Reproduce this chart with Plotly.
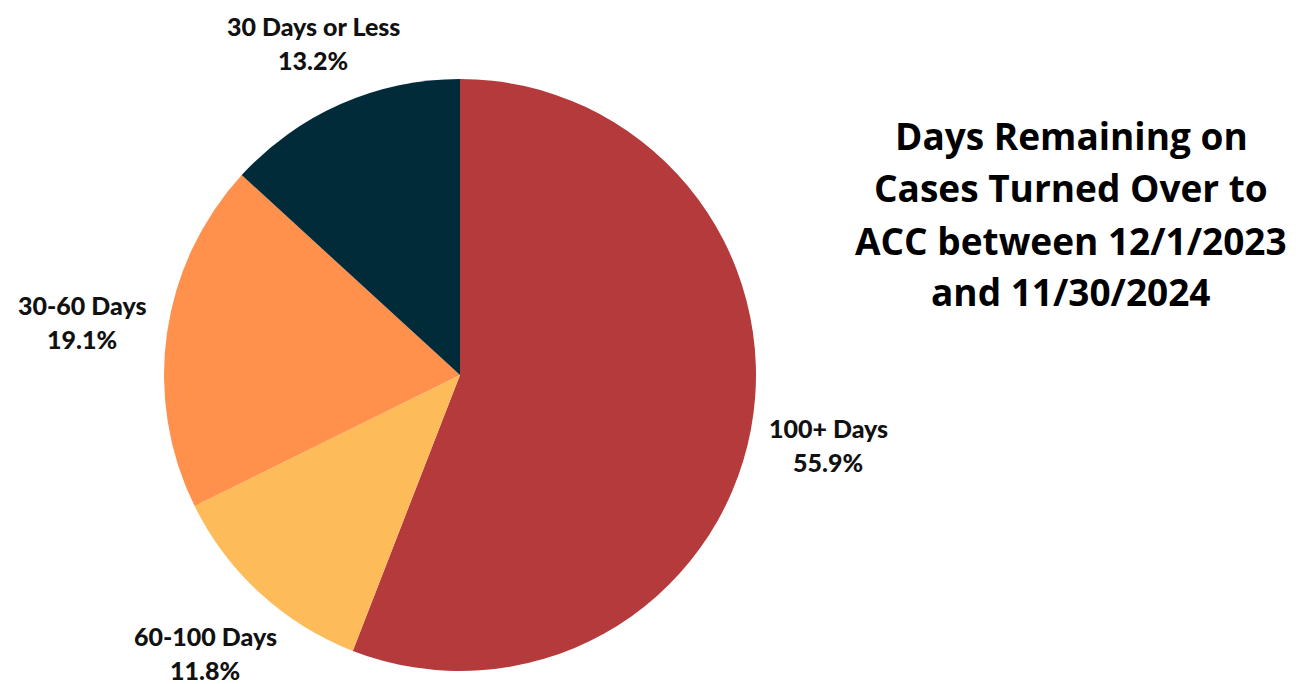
import plotly.graph_objects as go

# Share of cases by days remaining when turned over to ACC
categories = ["100+ Days", "60-100 Days", "30-60 Days", "30 Days or Less"]
shares = [55.9, 11.8, 19.1, 13.2]
colors = ["#B53A3C", "#FDBB5A", "#FF914D", "#022B3A"]
title_lines = ["Days Remaining on", "Cases Turned Over to",
               "ACC between 12/1/2023", "and 11/30/2024"]

W, H = 1299, 684
cx, cy, r = 460, 375, 296

fig = go.Figure(go.Pie(
    labels=categories,
    values=shares,
    sort=False,
    direction="clockwise",
    rotation=0,
    marker=dict(colors=colors, line=dict(width=0)),
    textinfo="none",
    hoverinfo="label+percent",
    domain=dict(x=[(cx - r) / W, (cx + r) / W],
                y=[(H - cy - r) / H, (H - cy + r) / H]),
    showlegend=False,
))

# Slice labels placed outside the pie (pixel anchor of the name line)
label_pos = {
    "100+ Days": (828, 428),
    "60-100 Days": (205, 636),
    "30-60 Days": (82, 305),
    "30 Days or Less": (313, 26),
}
label_font = dict(family="Lato", size=25, color="#111111", weight=900)
for name, val in zip(categories, shares):
    x, y = label_pos[name]
    for txt, yy in ((name, y), (f"{val:.1f}%", y + 34)):
        fig.add_annotation(
            text=txt, x=x / W, y=1 - yy / H, xref="paper", yref="paper",
            xanchor="center", yanchor="middle", showarrow=False,
            font=label_font,
        )

# Title block on the right, one annotation per line
line_y = [135, 187, 240, 291]
for txt, y in zip(title_lines, line_y):
    fig.add_annotation(
        text=txt, x=1071 / W, y=1 - y / H, xref="paper", yref="paper",
        xanchor="center", yanchor="middle", showarrow=False,
        font=dict(family="Open Sans", size=37, color="#000000", weight=700),
    )

fig.update_layout(
    width=W, height=H,
    margin=dict(l=0, r=0, t=0, b=0),
    paper_bgcolor="white",
    plot_bgcolor="white",
)

fig.write_html("out.html")
